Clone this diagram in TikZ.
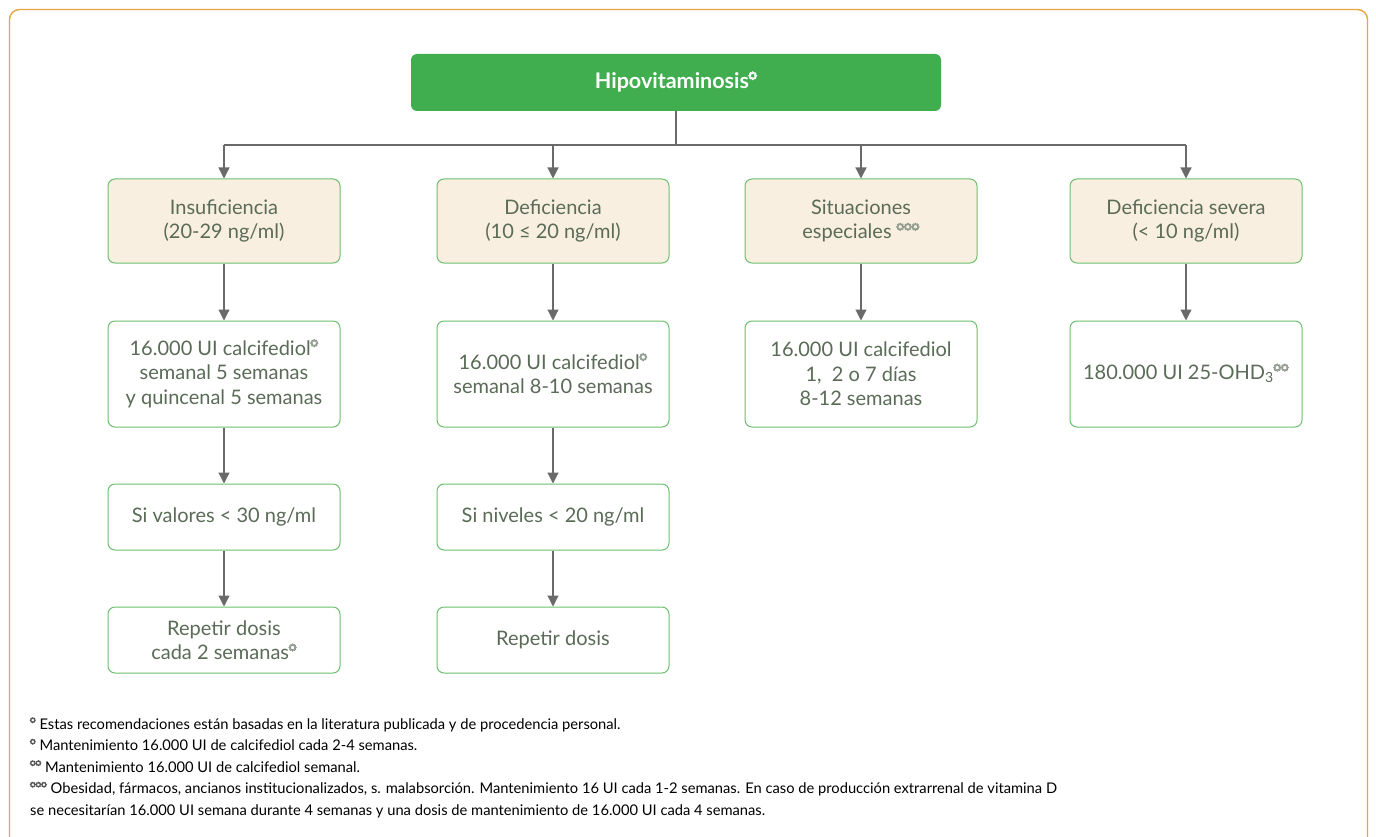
\documentclass[tikz,border=0pt]{standalone}
\usepackage{fontspec}
\usepackage{pict2e}
\setmainfont{Lato}
\usetikzlibrary{arrows.meta}
\definecolor{frame}{HTML}{E8A53F}
\definecolor{topgreen}{HTML}{40AD4E}
\definecolor{bgreen}{HTML}{6CC070}
\definecolor{beige}{HTML}{F9EFE1}
\definecolor{txt}{HTML}{5A6B57}
\definecolor{conn}{HTML}{6A6A6A}
\newcommand{\fl}{{\color{.!70!white}\setlength{\unitlength}{0.05em}\linethickness{0.035em}%
  \begin{picture}(7.6,6)
    \put(6.3,12){\circle{1.9}}
    \put(5.48,13.98){\circle{1.9}}
    \put(3.5,14.8){\circle{1.9}}
    \put(1.52,13.98){\circle{1.9}}
    \put(0.7,12){\circle{1.9}}
    \put(1.52,10.02){\circle{1.9}}
    \put(3.5,9.2){\circle{1.9}}
    \put(5.48,10.02){\circle{1.9}}
  \end{picture}}}
\begin{document}
\begin{tikzpicture}[x=1pt,y=-1pt,
  box/.style={draw=bgreen, line width=1pt, rounded corners=7pt, minimum width=232pt, align=center, text=txt, font=\fontsize{20pt}{24.5pt}\selectfont, inner sep=0pt},
  lvlone/.style={box, fill=beige, minimum height=84pt},
  wbox/.style={box, fill=white},
  conline/.style={draw=conn, line width=1.2pt},
  arr/.style={conline, -{Triangle[width=11pt,length=11pt]}},
  foot/.style={anchor=base west, font=\fontsize{14.7pt}{17pt}\selectfont, inner sep=0pt, text=black}
]
\useasboundingbox (0,0) rectangle (1376,837);
\clip (0,0) rectangle (1376,837);
\fill[white] (0,0) rectangle (1376,837);
\draw[frame, line width=1.4pt, rounded corners=10pt] (9.5,9.5) rectangle (1367.5,900);

\node[fill=topgreen, rounded corners=6pt, minimum width=530pt, minimum height=57pt, text=white, font=\bfseries\fontsize{21.5pt}{24pt}\selectfont] (top) at (676,82.5) {Hipovitaminosis\fl};

\node[lvlone] (a1) at (224,221) {Insuficiencia\\(20-29 ng/ml)};
\node[lvlone] (b1) at (553,221) {Deficiencia\\(10 ≤ 20 ng/ml)};
\node[lvlone] (c1) at (861,221) {Situaciones\\especiales \fl\fl\fl};
\node[lvlone] (d1) at (1186,221) {Deficiencia severa\\(< 10 ng/ml)};

\coordinate (hub) at (676,145);
\coordinate (h1) at (a1.north |- hub);
\coordinate (h2) at (b1.north |- hub);
\coordinate (h3) at (c1.north |- hub);
\coordinate (h4) at (d1.north |- hub);

\node[wbox, minimum height=106pt] (a2) at (224,374) {16.000 UI calcifediol\fl\\semanal 5 semanas\\y quincenal 5 semanas};
\node[wbox, minimum height=106pt] (b2) at (553,374) {16.000 UI calcifediol\fl\\semanal 8-10 semanas};
\node[wbox, minimum height=106pt] (c2) at (861,374) {16.000 UI calcifediol\\1,\ \ 2 o 7 días\\8-12 semanas};
\node[wbox, minimum height=106pt] (d2) at (1186,374) {180.000 UI 25-OHD\textsubscript{3}\fl\fl};

\node[wbox, minimum height=66pt] (a3) at (224,517) {Si valores < 30 ng/ml};
\node[wbox, minimum height=66pt] (b3) at (553,517) {Si niveles < 20 ng/ml};

\node[wbox, minimum height=66pt] (a4) at (224,640) {Repetir dosis\\cada 2 semanas\fl};
\node[wbox, minimum height=66pt] (b4) at (553,640) {Repetir dosis};

\draw[conline] (top.south) -- (hub);
\draw[conline] (h1) -- (h4);
\draw[arr] (h1) -- (a1.north);
\draw[arr] (h2) -- (b1.north);
\draw[arr] (h3) -- (c1.north);
\draw[arr] (h4) -- (d1.north);
\draw[arr] (a1) -- (a2);
\draw[arr] (b1) -- (b2);
\draw[arr] (c1) -- (c2);
\draw[arr] (d1) -- (d2);
\draw[arr] (a2) -- (a3);
\draw[arr] (b2) -- (b3);
\draw[arr] (a3) -- (a4);
\draw[arr] (b3) -- (b4);

\node[foot] (f1) at (30,729) {\fl\ Estas recomendaciones están basadas en la literatura publicada y de procedencia personal.};
\node[foot] (f2) at (30,750.5) {\fl\ Mantenimiento 16.000 UI de calcifediol cada 2-4 semanas.};
\node[foot] (f3) at (30,772) {\fl\fl\ Mantenimiento 16.000 UI de calcifediol semanal.};
\node[foot] (f4) at (30,793.5) {\fl\fl\fl\ Obesidad, fármacos, ancianos institucionalizados, s. malabsorción. Mantenimiento 16 UI cada 1-2 semanas. En caso de producción extrarrenal de vitamina D};
\node[foot] (f5) at (30,815) {se necesitarían 16.000 UI semana durante 4 semanas y una dosis de mantenimiento de 16.000 UI cada 4 semanas.};
\end{tikzpicture}
\end{document}
